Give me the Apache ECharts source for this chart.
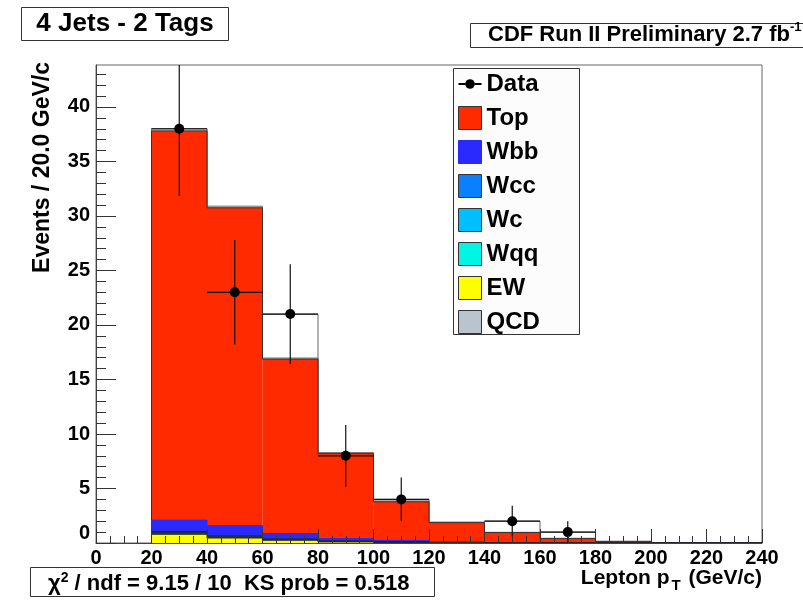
<!DOCTYPE html>
<html><head><meta charset="utf-8">
<script src="https://cdn.jsdelivr.net/npm/echarts@6/dist/echarts.min.js"></script>
<style>html,body{margin:0;padding:0;background:#fff}#c{width:803px;height:604px}</style>
</head><body><div id="c"></div>
<script>
// ---- data ----
const binLo = [20, 40, 60, 80, 100, 120, 140, 160, 180, 200, 220];
const binWidth = 20;
const topMC = [35.7, 29.15, 16.0, 7.8, 3.55, 1.75, 0.93, 0.4, 0.15, 0, 0];
const wbb   = [1.05, 0.95, 0.5, 0.22, 0.13, 0.08, 0.03, 0.02, 0, 0, 0];
const wcc   = [0.10, 0.08, 0.05, 0.03, 0.02, 0.01, 0, 0, 0, 0, 0];
const wc    = [0.06, 0.05, 0.03, 0.02, 0.01, 0, 0, 0, 0, 0, 0];
const wqq   = [0.09, 0.06, 0.04, 0.03, 0.02, 0.01, 0, 0, 0, 0, 0];
const ew    = [0.80, 0.46, 0.25, 0.10, 0.05, 0.02, 0, 0, 0, 0, 0];
const qcd   = [0.20, 0.15, 0.10, 0.10, 0.08, 0.05, 0.02, 0, 0, 0, 0];
const dataCounts = [38, 23, 21, 8, 4, 0, 2, 1, 0, 0, 0];
const yMajorTicks = [0, 5, 10, 15, 20, 25, 30, 35, 40];
const yMinorTicks = [1,2,3,4,6,7,8,9,11,12,13,14,16,17,18,19,21,22,23,24,26,27,28,29,31,32,33,34,36,37,38,39,41,42,43];

const FONT = "'Liberation Sans', Arial, Helvetica, sans-serif";

// stack from bottom to top
const stackDef = [
  { name: 'EW',  vals: ew,    color: '#ffff00', stroke: '#222' },
  { name: 'Wqq', vals: wqq,   color: '#00f5e4', stroke: '#222' },
  { name: 'Wc',  vals: wc,    color: '#00bfff', stroke: '#222' },
  { name: 'Wcc', vals: wcc,   color: '#0a80ff', stroke: '#222' },
  { name: 'Wbb', vals: wbb,   color: '#2a2aff', stroke: '#2a2aff' },
  { name: 'Top', vals: topMC, color: '#ff2a00', stroke: '#333' },
  { name: 'QCD', vals: qcd,   color: '#b9c4cc', stroke: '#777' }
];
let running = binLo.map(() => 0);
const cumList = stackDef.map(d => {
  running = running.map((v, i) => v + d.vals[i]);
  return running.slice();
});

function stepRender(fill, stroke) {
  return function (params, api) {
    const x0 = api.value(0), x1 = api.value(1), h = api.value(2), prev = api.value(3);
    const pBase = api.coord([x0, 0]);
    const pTop = api.coord([x1, h]);
    const pPrev = api.coord([x0, prev]);
    const children = [];
    if (fill) {
      children.push({ type: 'rect',
        shape: { x: pBase[0], y: pTop[1], width: pTop[0] - pBase[0], height: pBase[1] - pTop[1] },
        style: { fill: fill } });
    }
    children.push({ type: 'polyline',
      shape: { points: [pPrev, [pBase[0], pTop[1]], pTop] },
      style: { stroke: stroke, lineWidth: 1, fill: null } });
    return { type: 'group', children: children };
  };
}

function stepData(cum) {
  return binLo.map((lo, i) => [lo, lo + binWidth, cum[i], i > 0 ? cum[i - 1] : 0]);
}

const series = [];
// data histogram outline (drawn beneath the stack)
series.push({
  type: 'custom', name: 'DataOutline', silent: true,
  renderItem: stepRender(null, '#666'),
  data: stepData(dataCounts), clip: true, z: 2
});
for (let k = stackDef.length - 1; k >= 0; k--) {
  const d = stackDef[k];
  series.push({
    type: 'custom', name: d.name,
    itemStyle: { color: d.color },
    renderItem: stepRender(d.color, d.stroke),
    data: stepData(cumList[k]), clip: true, z: 2
  });
}
// data points with errors
const pts = [];
binLo.forEach((lo, i) => {
  if (dataCounts[i] > 0) pts.push([lo + binWidth / 2, dataCounts[i], Math.sqrt(dataCounts[i]), binWidth / 2]);
});
series.push({
  type: 'custom', name: 'Data', itemStyle: { color: '#000' }, clip: true, z: 3,
  renderItem: function (params, api) {
    const x = api.value(0), y = api.value(1), e = api.value(2), hw = api.value(3);
    const c = api.coord([x, y]);
    const lo = api.coord([x, Math.max(0, y - e)]);
    const hi = api.coord([x, y + e]);
    const l = api.coord([x - hw, y]);
    const r = api.coord([x + hw, y]);
    return { type: 'group', children: [
      { type: 'line', shape: { x1: lo[0], y1: lo[1], x2: hi[0], y2: hi[1] }, style: { stroke: '#111', lineWidth: 1.2 } },
      { type: 'line', shape: { x1: l[0], y1: l[1], x2: r[0], y2: r[1] }, style: { stroke: '#111', lineWidth: 1.2 } },
      { type: 'circle', shape: { cx: c[0], cy: c[1], r: 5 }, style: { fill: '#000' } }
    ] };
  },
  data: pts
});

const legendData = [
  { name: 'Data', icon: 'path://M0,11 L7,11 L7,13 L0,13 Z M17,11 L24,11 L24,13 L17,13 Z M17,12 A5,5 0 1 1 7,12 A5,5 0 1 1 17,12 Z', itemStyle: { color: '#000', borderWidth: 0 } }
];
['Top', 'Wbb', 'Wcc', 'Wc', 'Wqq', 'EW', 'QCD'].forEach(n => {
  const d = stackDef.find(s => s.name === n);
  legendData.push({ name: n, icon: 'rect', itemStyle: { color: d.color, borderColor: n === 'Wbb' ? d.color : '#333', borderWidth: 1 } });
});

const chart = echarts.init(document.getElementById('c'), null, { renderer: 'canvas' });
chart.setOption({
  animation: false,
  backgroundColor: '#fff',
  textStyle: { fontFamily: FONT },
  grid: { left: 96, right: 41, top: 65, bottom: 61, show: true, borderColor: '#666', borderWidth: 1 },
  xAxis: {
    type: 'value', min: 0, max: 240, interval: 20, z: 5,
    axisLine: { show: true, lineStyle: { color: '#444', width: 1 } },
    axisTick: { show: true, inside: true, length: 14, lineStyle: { color: '#333' } },
    minorTick: { show: true, splitNumber: 4, length: 7, lineStyle: { color: '#333' } },
    splitLine: { show: false }, minorSplitLine: { show: false },
    axisLabel: { fontSize: 20, fontWeight: 'bold', color: '#000', margin: 5, fontFamily: FONT }
  },
  yAxis: [{
    type: 'value', min: 0, max: 43.85, position: 'left', z: 5,
    axisLine: { show: true, lineStyle: { color: '#444', width: 1 } },
    axisTick: { show: true, inside: true, length: 20, customValues: yMajorTicks, lineStyle: { color: '#333' } },
    splitLine: { show: false },
    axisLabel: { customValues: yMajorTicks, fontSize: 20, fontWeight: 'bold', color: '#000', margin: 6, fontFamily: FONT,
      formatter: v => v === 0 ? '{z|0}' : String(v),
      rich: { z: { fontSize: 20, fontWeight: 'bold', color: '#000', padding: [0, 0, 20, 0], fontFamily: FONT } } }
  }, {
    type: 'value', min: 0, max: 43.85, position: 'left', offset: 0, z: 5,
    axisLine: { show: false },
    axisTick: { show: true, inside: true, length: 10, customValues: yMinorTicks, lineStyle: { color: '#333' } },
    splitLine: { show: false },
    axisLabel: { show: false }
  }],
  legend: {
    orient: 'vertical', left: 458, top: 72, padding: 0, z: 8,
    itemWidth: 23, itemHeight: 23, itemGap: 10,
    textStyle: { fontSize: 24, fontWeight: 'bold', color: '#000', fontFamily: FONT, lineHeight: 23 },
    data: legendData, selectedMode: false
  },
  graphic: [
    { type: 'rect', z: 6, shape: { x: 453.5, y: 68.5, width: 126, height: 266 }, style: { fill: '#fcfcfc', stroke: '#333', lineWidth: 1 } },
    { type: 'rect', z: 6, shape: { x: 21.5, y: 7.5, width: 207, height: 33 }, style: { fill: '#fff', stroke: '#333', lineWidth: 1 } },
    { type: 'text', z: 7, x: 125, y: 24, style: { text: '4 Jets - 2 Tags', font: 'bold 26px ' + FONT, fill: '#000', align: 'center', verticalAlign: 'middle' } },
    { type: 'rect', z: 6, shape: { x: 470.5, y: 23.5, width: 340, height: 24 }, style: { fill: '#fff', stroke: '#333', lineWidth: 1 } },
    { type: 'text', z: 7, x: 488, y: 24, style: {
      text: '{m|CDF Run II Preliminary 2.7 fb}{s|-1}', align: 'left', verticalAlign: 'top',
      rich: { m: { fontSize: 22, fontWeight: 'bold', fill: '#000', fontFamily: FONT, verticalAlign: 'top', padding: [0, 0, 0, 0] },
              s: { fontSize: 13, fontWeight: 'bold', fill: '#000', fontFamily: FONT, verticalAlign: 'top', padding: [-3, 0, 0, 0] } } } },
    { type: 'rect', z: 6, shape: { x: 30.5, y: 567.5, width: 404, height: 29 }, style: { fill: '#fff', stroke: '#333', lineWidth: 1 } },
    { type: 'text', z: 7, x: 48, y: 571, style: {
      text: '{m|\u03c7}{s|2}{m| / ndf = 9.15 / 10  KS prob = 0.518}', align: 'left', verticalAlign: 'top',
      rich: { m: { fontSize: 22, fontWeight: 'bold', fill: '#000', fontFamily: FONT, verticalAlign: 'top', padding: [2, 0, 0, 0] },
              s: { fontSize: 14, fontWeight: 'bold', fill: '#000', fontFamily: FONT, verticalAlign: 'top', padding: [0, 0, 0, 0] } } } },
    { type: 'text', z: 7, x: 43, y: 62, rotation: Math.PI / 2, style: { text: 'Events / 20.0 GeV/c', font: 'bold 23px ' + FONT, fill: '#000', align: 'right', verticalAlign: 'middle' } },
    { type: 'text', z: 7, x: 762, y: 568, style: {
      text: '{m|Lepton p}{s|T}{m| (GeV/c)}', align: 'right', verticalAlign: 'top',
      rich: { m: { fontSize: 21, fontWeight: 'bold', fill: '#000', fontFamily: FONT, verticalAlign: 'top', padding: [0, 0, 0, 0] },
              s: { fontSize: 15, fontWeight: 'bold', fill: '#000', fontFamily: FONT, verticalAlign: 'top', padding: [10, 2, 0, 2] } } } }
  ],
  series: series
});
</script>
</body></html>
